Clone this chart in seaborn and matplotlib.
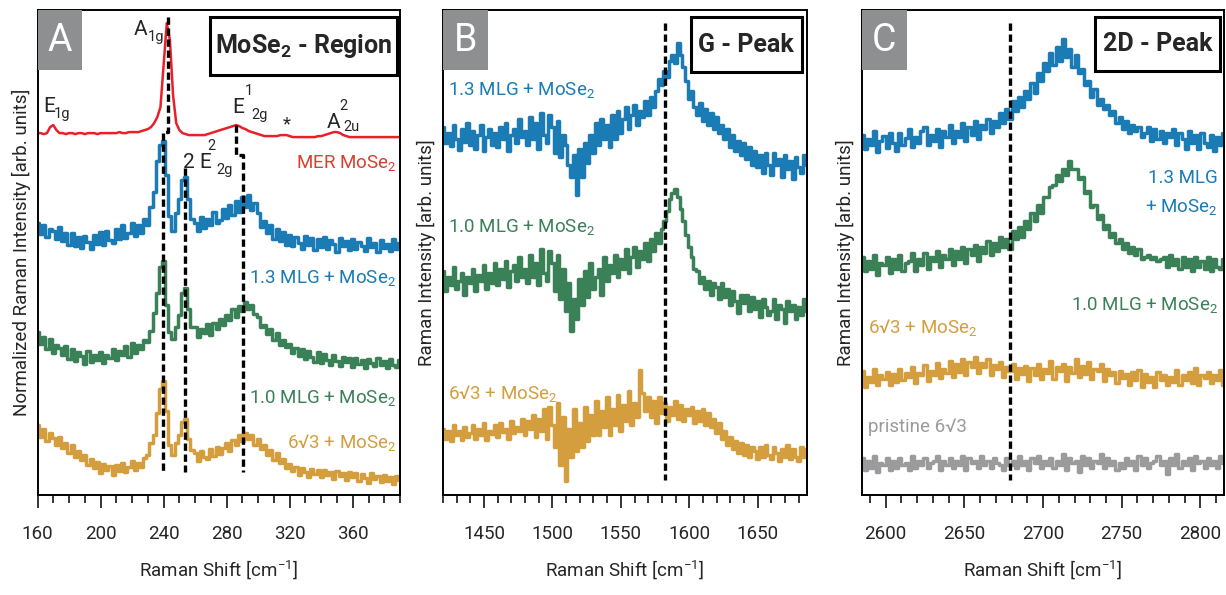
import numpy as np
import seaborn as sns
import matplotlib.pyplot as plt
from matplotlib.patches import Rectangle
from matplotlib.ticker import MultipleLocator

sns.set_style('white')
plt.rcParams['font.family'] = ['Roboto', 'DejaVu Sans']
plt.rcParams['mathtext.default'] = 'regular'

# ----------------------------------------------------------------------
# data (intensities, arb. units)
# ----------------------------------------------------------------------

shift_A = np.arange(160, 391, 2)
shift_B = np.arange(1420, 1687, 2)
shift_C = np.arange(2585, 2816, 2)

mer_A = [362, 362, 361, 362, 368, 370, 365, 362, 362, 361,
         362, 362, 361, 362, 362, 361, 362, 362, 362, 361,
         362, 362, 362, 362, 362, 362, 363, 362, 362, 363,
         363, 363, 363, 364, 365, 366, 368, 372, 378, 388,
         430, 472, 455, 400, 372, 365, 362, 361, 360, 360,
         360, 360, 360, 360, 361, 362, 363, 364, 365, 366,
         367, 368, 369, 370, 369, 367, 366, 364, 363, 362,
         361, 360, 359, 359, 359, 359, 359, 360, 360, 360,
         359, 358, 358, 358, 358, 358, 358, 358, 358, 359,
         359, 360, 361, 362, 363, 363, 362, 360, 359, 358,
         358, 358, 358, 358, 358, 358, 358, 358, 358, 358,
         358, 358, 358, 358, 358, 358]

mlg13_A = [272, 261, 270, 258, 266, 264, 256, 268, 254, 262,
           250, 262, 249, 258, 247, 259, 253, 246, 260, 251,
           263, 250, 264, 255, 252, 266, 256, 270, 257, 262,
           272, 259, 270, 262, 276, 270, 288, 303, 334, 350,
           354, 320, 279, 264, 282, 296, 315, 318, 296, 276,
           272, 264, 278, 267, 276, 270, 283, 272, 275, 286,
           277, 290, 280, 294, 283, 298, 288, 300, 285, 292,
           282, 268, 274, 262, 270, 256, 266, 254, 263, 250,
           260, 249, 258, 252, 246, 259, 250, 257, 245, 256,
           248, 258, 246, 255, 251, 243, 257, 249, 254, 245,
           256, 246, 253, 249, 244, 257, 248, 252, 243, 255,
           247, 251, 244, 256, 246, 252]

mlg10_A = [163, 151, 158, 146, 156, 142, 150, 147, 140, 149,
           136, 146, 134, 143, 139, 131, 144, 133, 140, 135,
           143, 132, 140, 137, 146, 135, 144, 140, 149, 138,
           152, 142, 150, 146, 155, 153, 164, 182, 202, 228,
           234, 190, 163, 156, 168, 180, 202, 207, 186, 168,
           168, 158, 166, 162, 171, 160, 172, 166, 176, 170,
           180, 175, 186, 178, 189, 184, 193, 186, 190, 181,
           178, 168, 170, 161, 166, 155, 162, 150, 155, 148,
           151, 142, 147, 139, 146, 136, 144, 138, 133, 143,
           132, 141, 135, 130, 140, 134, 129, 138, 133, 137,
           128, 137, 131, 135, 127, 136, 132, 129, 137, 130,
           134, 127, 136, 130, 128, 135]

sqrt3_A = [70, 58, 66, 54, 62, 57, 50, 58, 47, 52,
           42, 50, 38, 44, 35, 40, 30, 36, 27, 33,
           22, 31, 25, 29, 20, 30, 24, 32, 23, 28,
           34, 25, 32, 28, 37, 40, 52, 60, 82, 106,
           114, 84, 50, 40, 52, 60, 73, 76, 56, 45,
           42, 34, 44, 38, 36, 46, 39, 48, 41, 47,
           52, 44, 55, 50, 60, 54, 62, 56, 60, 50,
           56, 46, 50, 40, 45, 35, 42, 32, 36, 27,
           31, 24, 28, 20, 27, 23, 18, 26, 21, 25,
           18, 25, 20, 23, 16, 24, 19, 22, 15, 23,
           18, 22, 14, 21, 17, 12, 22, 16, 19, 13,
           20, 14, 18, 11, 19, 15]

mlg13_B = [368, 352, 362, 349, 370, 356, 345, 366, 353, 372,
           350, 364, 346, 360, 370, 344, 358, 366, 350, 362,
           348, 368, 356, 372, 344, 360, 366, 352, 376, 358,
           364, 350, 378, 356, 372, 346, 382, 360, 352, 380,
           368, 342, 374, 338, 360, 350, 330, 318, 340, 300,
           346, 318, 352, 332, 360, 342, 372, 350, 376, 356,
           370, 348, 380, 356, 384, 362, 376, 388, 366, 380,
           390, 370, 384, 378, 394, 380, 398, 388, 404, 416,
           410, 424, 418, 434, 440, 432, 452, 440, 428, 414,
           396, 404, 388, 380, 392, 374, 386, 370, 382, 366,
           378, 362, 370, 356, 366, 348, 360, 344, 354, 340,
           352, 336, 348, 330, 344, 328, 340, 322, 342, 330,
           320, 342, 330, 336, 318, 340, 326, 334, 316, 338,
           328, 322, 340, 330]

mlg10_B = [224, 204, 218, 210, 228, 206, 214, 222, 200, 218,
           212, 226, 204, 220, 214, 230, 206, 222, 212, 232,
           210, 226, 216, 234, 208, 224, 230, 214, 238, 218,
           226, 212, 240, 218, 232, 210, 246, 222, 214, 244,
           232, 204, 240, 196, 226, 184, 212, 164, 196, 176,
           216, 190, 224, 198, 232, 206, 218, 226, 200, 238,
           214, 230, 222, 240, 218, 236, 226, 246, 222, 238,
           248, 228, 244, 236, 252, 234, 256, 244, 262, 252,
           266, 274, 284, 296, 302, 306, 298, 286, 274, 260,
           248, 238, 226, 224, 212, 218, 206, 214, 200, 212,
           208, 196, 212, 198, 206, 190, 204, 194, 182, 200,
           192, 200, 184, 198, 186, 194, 178, 196, 188, 180,
           184, 196, 176, 190, 186, 172, 194, 184, 190, 176,
           188, 180, 196, 184]

sqrt3_B = [66, 56, 64, 54, 70, 60, 64, 55, 68, 58,
           62, 70, 56, 66, 60, 72, 55, 64, 61, 70,
           58, 72, 63, 66, 56, 74, 62, 68, 64, 76,
           60, 74, 66, 80, 58, 76, 64, 86, 56, 88,
           70, 48, 92, 30, 78, 14, 66, 38, 86, 44,
           72, 48, 88, 54, 80, 60, 94, 60, 84, 68,
           98, 60, 86, 70, 100, 64, 90, 74, 104, 70,
           92, 78, 125, 102, 84, 98, 78, 94, 72, 98,
           82, 92, 74, 88, 80, 94, 76, 90, 74, 86,
           80, 88, 72, 84, 74, 86, 70, 82, 68, 76,
           62, 72, 56, 64, 50, 58, 46, 54, 42, 52,
           40, 50, 38, 48, 44, 36, 48, 38, 50, 40,
           36, 48, 42, 34, 46, 38, 50, 36, 46, 38,
           34, 48, 38, 46]

mlg13_C = [360, 346, 356, 350, 364, 343, 354, 359, 347, 362,
           352, 344, 362, 350, 357, 366, 348, 358, 352, 364,
           368, 350, 360, 354, 366, 348, 364, 358, 370, 352,
           364, 358, 372, 354, 368, 360, 374, 356, 370, 366,
           376, 362, 374, 368, 382, 372, 386, 376, 394, 384,
           398, 388, 404, 396, 412, 402, 422, 414, 432, 424,
           442, 430, 448, 434, 456, 438, 446, 428, 440, 422,
           426, 410, 414, 398, 406, 390, 396, 386, 390, 380,
           384, 372, 378, 366, 374, 362, 370, 364, 368, 358,
           362, 368, 354, 366, 356, 364, 352, 362, 358, 366,
           350, 362, 356, 346, 364, 352, 360, 346, 362, 352,
           348, 360, 344, 358, 350, 362]

mlg10_C = [238, 224, 234, 226, 240, 220, 232, 230, 238, 222,
           236, 226, 240, 224, 232, 234, 242, 224, 236, 230,
           242, 226, 238, 234, 244, 228, 240, 236, 246, 230,
           244, 236, 248, 232, 246, 240, 250, 234, 248, 242,
           254, 240, 252, 244, 258, 248, 256, 246, 264, 256,
           268, 258, 274, 266, 282, 274, 290, 282, 298, 298,
           308, 310, 320, 314, 326, 320, 334, 326, 326, 316,
           318, 302, 304, 288, 290, 276, 280, 266, 270, 258,
           262, 252, 256, 246, 252, 242, 248, 240, 246, 236,
           238, 240, 236, 238, 234, 236, 238, 228, 240, 230,
           236, 226, 238, 228, 236, 224, 238, 228, 234, 226,
           238, 224, 236, 228, 226, 236]

sqrt3_C = [124, 108, 118, 113, 126, 110, 120, 116, 123, 110,
           121, 113, 126, 115, 122, 118, 128, 112, 122, 120,
           130, 114, 124, 120, 132, 117, 126, 122, 134, 118,
           131, 123, 136, 120, 133, 128, 138, 122, 132, 128,
           136, 120, 130, 126, 133, 118, 128, 124, 131, 116,
           127, 121, 129, 114, 127, 120, 131, 116, 126, 122,
           134, 116, 128, 124, 131, 114, 128, 122, 136, 118,
           129, 121, 133, 116, 126, 124, 131, 114, 126, 120,
           123, 112, 124, 117, 121, 110, 123, 115, 125, 108,
           121, 113, 118, 108, 123, 115, 120, 110, 118, 113,
           125, 110, 120, 115, 123, 112, 127, 110, 120, 117,
           123, 112, 120, 115, 125, 110]

pristine_C = [37, 25, 34, 27, 39, 23, 32, 30, 37, 25,
              34, 27, 37, 30, 32, 25, 39, 27, 34, 30,
              37, 27, 32, 34, 39, 25, 34, 30, 37, 27,
              34, 30, 39, 25, 37, 32, 34, 27, 39, 30,
              34, 27, 37, 32, 30, 25, 37, 30, 34, 27,
              39, 30, 34, 25, 37, 32, 39, 27, 34, 30,
              37, 27, 34, 30, 41, 25, 37, 32, 34, 23,
              39, 30, 37, 27, 34, 32, 41, 27, 37, 30,
              34, 25, 32, 27, 37, 30, 34, 25, 39, 30,
              37, 27, 32, 34, 39, 30, 34, 21, 37, 30,
              41, 27, 34, 30, 37, 25, 39, 32, 34, 27,
              37, 30, 34, 27, 39, 32]

# peak guides: (x top, x bottom, y top, y kink, y bottom)
guides_A = [(243.0, 239.5, 478, 363, 23),
            (253.7, 253.7, 327, 327, 23),
            (286.0, 290.2, 370, 340, 23)]
g_peak = 1582.6
d2_peak = 2679.0

c_red = '#e8202a'
c_blue = '#1a7bb5'
c_green = '#3b8158'
c_orange = '#d49e3e'
c_gray = '#9b9b9d'
c_box = '#8e8f91'
c_mer = '#d8402f'

FS = 13.5

# ----------------------------------------------------------------------
# figure
# ----------------------------------------------------------------------

fig = plt.figure(figsize=(12.26, 5.95), dpi=100)
axA = fig.add_axes([0.0306, 0.168, 0.2957, 0.815])
axB = fig.add_axes([0.3613, 0.168, 0.2969, 0.815])
axC = fig.add_axes([0.7031, 0.168, 0.2953, 0.815])


def spectrum(ax, x, y, color, lw=2.5, steps=True):
    # measured spectra are drawn as steps, like the raw detector bins
    sns.lineplot(x=x, y=y, ax=ax, color=color, lw=lw, estimator=None,
                 sort=False, legend=False,
                 drawstyle='steps-mid' if steps else 'default')


def guide(ax, xs, ys):
    ax.plot(xs, ys, color='black', lw=2.4, ls=(0, (2.2, 1.1)),
            solid_capstyle='butt', zorder=4)


def mode(ax, x, y, base, sub, sup=None, sub_dx=9, sup_dx=9, sub_dy=-4):
    # Raman mode label with hand-placed super/subscripts
    ax.text(x, y, base, fontsize=15, va='baseline')
    ax.annotate(sub, (x, y), xytext=(sub_dx, sub_dy), textcoords='offset points',
                fontsize=10.5, va='baseline')
    if sup:
        ax.annotate(sup, (x, y), xytext=(sup_dx, 13), textcoords='offset points',
                    fontsize=10.5, va='baseline')


def frame(ax, xlim, major, ylabel, letter, title, box):
    ax.set_xlim(*xlim)
    ax.set_ylim(0, 485)
    ax.set_yticks([])
    ax.xaxis.set_major_locator(MultipleLocator(major))
    ax.xaxis.set_minor_locator(MultipleLocator(10))
    ax.tick_params(axis='x', which='major', direction='out', length=9.5,
                   width=1.3, pad=12, labelsize=FS, bottom=True)
    ax.tick_params(axis='x', which='minor', direction='out', length=5.5,
                   width=1.3, bottom=True)
    for s in ax.spines.values():
        s.set_color('black')
        s.set_linewidth(1.4)
    ax.set_xlabel('Raman Shift [cm$^{-1}$]', fontsize=FS, labelpad=11)
    ax.set_ylabel(ylabel, fontsize=FS, labelpad=5)
    # grey panel letter
    ax.add_patch(Rectangle((0, 1 - 60 / 485), 45 / 363, 60 / 485,
                           transform=ax.transAxes, fc=c_box, ec='none', zorder=6))
    ax.text(22.5 / 363, 1 - 30 / 485, letter, transform=ax.transAxes,
            color='white', fontsize=27, ha='center', va='center', zorder=7)
    # boxed title
    x0, x1, y0, y1 = box
    ax.add_patch(Rectangle((x0, y0), x1 - x0, y1 - y0, transform=ax.transAxes,
                           fc='white', ec='black', lw=2.2, zorder=6))
    ax.text((x0 + x1) / 2, (y0 + y1) / 2, title, transform=ax.transAxes,
            fontsize=18, fontweight='bold', ha='center', va='center', zorder=7)


def tag(ax, x, y, s, color, ha):
    ax.text(x, y, s, color=color, fontsize=FS, ha=ha, va='center',
            transform=ax.transAxes)


# ---- panel A
spectrum(axA, shift_A, mer_A, c_red, lw=1.8, steps=False)
spectrum(axA, shift_A, mlg13_A, c_blue)
spectrum(axA, shift_A, mlg10_A, c_green)
spectrum(axA, shift_A, sqrt3_A, c_orange)
for xt, xb, yt, yk, yb in guides_A:
    guide(axA, [xt, xt, xb, xb], [yt, yk, yk, yb])
frame(axA, (160, 390), 40, 'Normalized Raman Intensity [arb. units]', 'A',
      'MoSe$_2$ - Region', (0.476, 0.992, 0.866, 0.986))

mode(axA, 163.5, 383, 'E', '1g', sub_dx=8)
mode(axA, 221.0, 460, 'A', '1g', sub_dx=10)
mode(axA, 283.7, 382, 'E', '2g', '1', sub_dx=13.5, sup_dx=9)
mode(axA, 343.6, 367, 'A', '2u', '2', sub_dx=12, sup_dx=9, sub_dy=-2)
mode(axA, 252.0, 327, '2 E', '2g', '2', sub_dx=24.5, sup_dx=18)
axA.text(315.5, 366, '*', fontsize=FS, va='baseline')

tag(axA, 0.99, 0.685, 'MER MoSe$_2$', c_mer, 'right')
tag(axA, 0.99, 0.447, '1.3 MLG + MoSe$_2$', c_blue, 'right')
tag(axA, 0.99, 0.200, '1.0 MLG + MoSe$_2$', c_green, 'right')
tag(axA, 0.99, 0.109, '6\u221a3 + MoSe$_2$', c_orange, 'right')

# ---- panel B
spectrum(axB, shift_B, mlg13_B, c_blue)
spectrum(axB, shift_B, mlg10_B, c_green)
spectrum(axB, shift_B, sqrt3_B, c_orange)
guide(axB, [g_peak, g_peak], [472, 15])
frame(axB, (1420, 1686), 50, 'Raman Intensity [arb. units]', 'B',
      'G - Peak', (0.681, 0.986, 0.872, 0.986))

tag(axB, 0.014, 0.835, '1.3 MLG + MoSe$_2$', c_blue, 'left')
tag(axB, 0.014, 0.553, '1.0 MLG + MoSe$_2$', c_green, 'left')
tag(axB, 0.014, 0.210, '6\u221a3 + MoSe$_2$', c_orange, 'left')

# ---- panel C
spectrum(axC, shift_C, mlg13_C, c_blue)
spectrum(axC, shift_C, mlg10_C, c_green)
spectrum(axC, shift_C, sqrt3_C, c_orange)
spectrum(axC, shift_C, pristine_C, c_gray)
guide(axC, [d2_peak, d2_peak], [472, 15])
frame(axC, (2585, 2815), 50, 'Raman Intensity [arb. units]', 'C',
      '2D - Peak', (0.644, 0.989, 0.874, 0.986))

tag(axC, 0.983, 0.654, '1.3 MLG', c_blue, 'right')
tag(axC, 0.983, 0.594, '+ MoSe$_2$', c_blue, 'right')
tag(axC, 0.983, 0.392, '1.0 MLG + MoSe$_2$', c_green, 'right')
tag(axC, 0.0166, 0.346, '6\u221a3 + MoSe$_2$', c_orange, 'left')
tag(axC, 0.0166, 0.140, 'pristine 6\u221a3', c_gray, 'left')

fig.savefig('out.png', dpi=100)
